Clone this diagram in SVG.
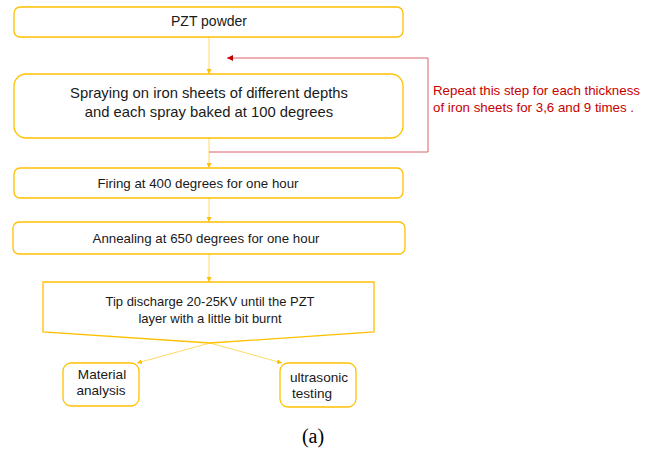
<svg xmlns="http://www.w3.org/2000/svg" width="653" height="449" viewBox="0 0 653 449">
<style>
.box{fill:#fff;stroke:#FFC000;stroke-width:1.3}
.t{font-family:"Liberation Sans",Arial,sans-serif;fill:#1a1a1a;text-anchor:middle}
.big{font-size:14.8px}
.mid{font-size:13.3px}
.sm{font-size:13.6px}
.red{font-family:"Liberation Sans",Arial,sans-serif;fill:#C80000;font-size:13.3px}
.conn{fill:none;stroke:#FFD966;stroke-width:1}
.rconn{fill:none;stroke:#D9606C;stroke-width:1}
</style>
<defs>
<marker id="ah" viewBox="0 0 6 6" refX="6" refY="3" markerWidth="5" markerHeight="5" orient="auto" markerUnits="userSpaceOnUse">
<path d="M0,0 L6,3 L0,6 z" fill="#FFC000"/>
</marker>
<marker id="rah" viewBox="0 0 6 6" refX="6" refY="3" markerWidth="6" markerHeight="6" orient="auto" markerUnits="userSpaceOnUse">
<path d="M0,0 L6,3 L0,6 z" fill="#C00000"/>
</marker>
</defs>
<rect width="653" height="449" fill="#fff"/>
<g id="connectors">
<line class="conn" x1="209" y1="37" x2="209" y2="74" marker-end="url(#ah)"/>
<line class="conn" x1="209" y1="138" x2="209" y2="168" marker-end="url(#ah)"/>
<line class="conn" x1="209" y1="198" x2="209" y2="222" marker-end="url(#ah)"/>
<line class="conn" x1="209" y1="254" x2="209" y2="282" marker-end="url(#ah)"/>
<line class="conn" x1="210" y1="343" x2="137" y2="363" marker-end="url(#ah)"/>
<line class="conn" x1="210" y1="343" x2="282" y2="363" marker-end="url(#ah)"/>
<polyline class="rconn" points="209,152 428,152 428,58 227,58" marker-end="url(#rah)"/>
</g>
<g id="n1">
<rect class="box" x="14" y="7" width="389" height="30" rx="6"/>
<text class="t" font-size="14" x="209" y="26">PZT powder</text>
</g>
<g id="n2">
<rect class="box" x="14" y="74" width="389" height="64" rx="12"/>
<text class="t big" x="209" y="98">Spraying on iron sheets of different depths</text>
<text class="t big" x="209" y="117">and each spray baked at 100 degrees</text>
</g>
<g id="note">
<text class="red" x="433" y="95">Repeat this step for each thickness</text>
<text class="red" x="433" y="112">of iron sheets for 3,6 and 9 times .</text>
</g>
<g id="n3">
<rect class="box" x="14" y="168" width="389" height="30" rx="6"/>
<text class="t mid" x="198" y="188">Firing at 400 degrees for one hour</text>
</g>
<g id="n4">
<rect class="box" x="13" y="222" width="392" height="32" rx="6"/>
<text class="t mid" x="206" y="243">Annealing at 650 degrees for one hour</text>
</g>
<g id="n5">
<path class="box" d="M43,282 L374,282 L374,332 L210,343 L43,332 Z"/>
<text class="t" font-size="13" x="210" y="306">Tip discharge 20-25KV until the PZT</text>
<text class="t" font-size="13" x="210" y="323">layer with a little bit burnt</text>
</g>
<g id="n6">
<rect class="box" x="63" y="363" width="76" height="43" rx="8"/>
<text class="t sm" x="102" y="379">Material</text>
<text class="t sm" x="101" y="395">analysis</text>
</g>
<g id="n7">
<rect class="box" x="280" y="363" width="76" height="44" rx="8"/>
<text class="t sm" x="319" y="382">ultrasonic</text>
<text class="t sm" x="312" y="398">testing</text>
</g>
<text x="313" y="443" font-family="'Liberation Serif','Times New Roman',serif" font-size="20" fill="#000" text-anchor="middle">(a)</text>
</svg>
